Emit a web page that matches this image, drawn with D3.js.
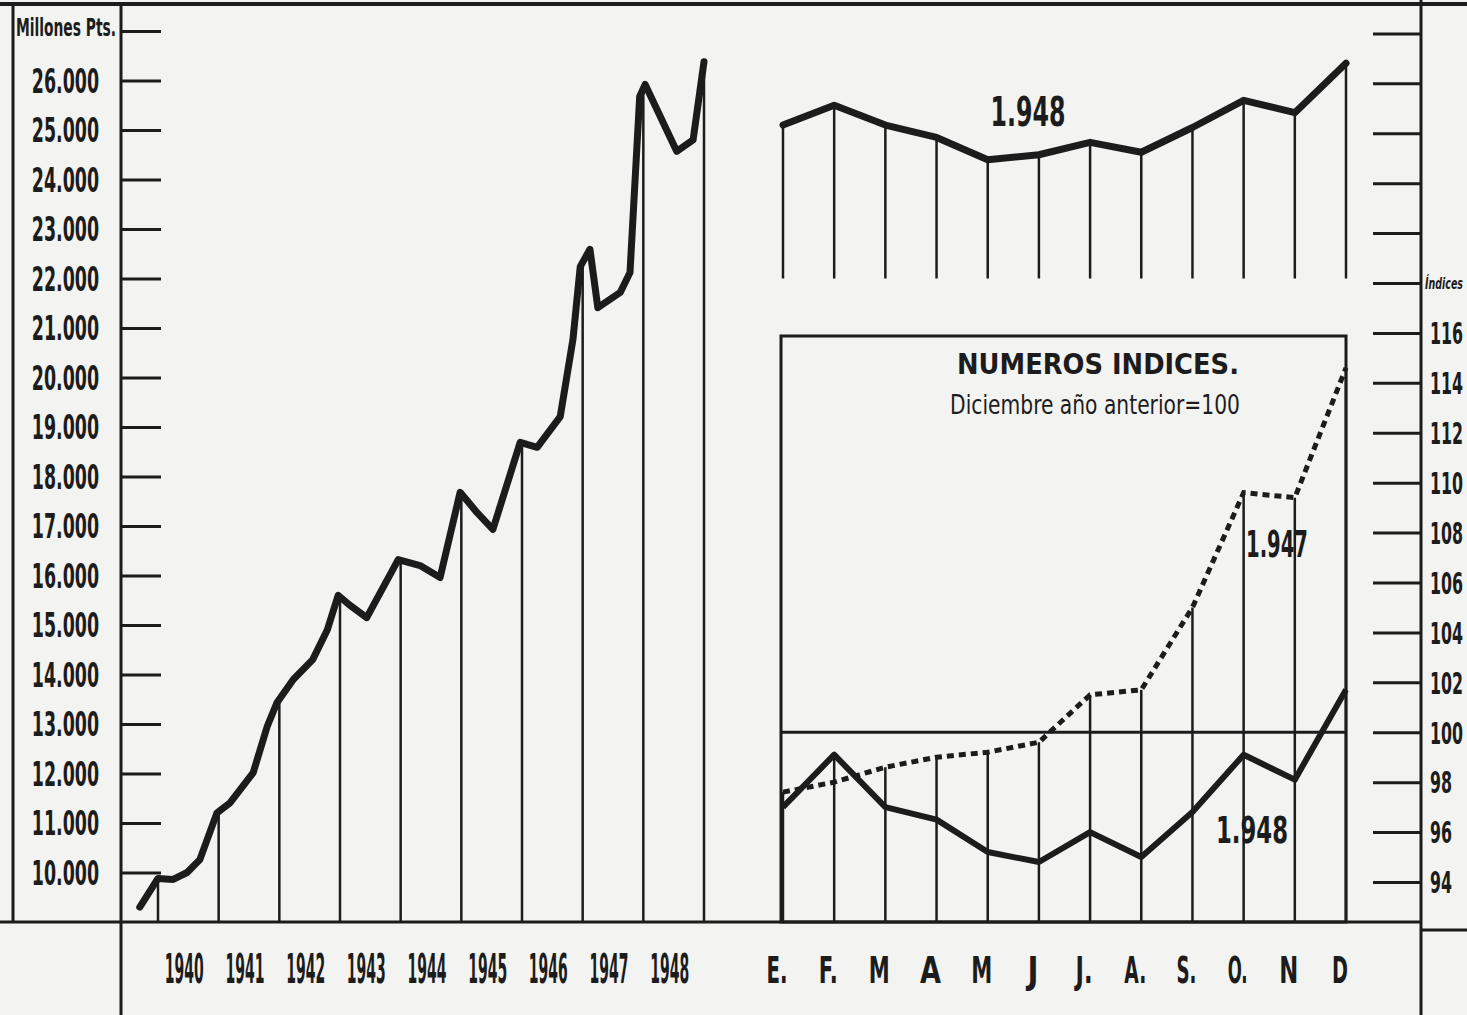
<!DOCTYPE html>
<html>
<head>
<meta charset="utf-8">
<script src="https://cdn.jsdelivr.net/npm/d3@7"></script>
<style>
  body { margin: 0; background: #f3f3f1; }
  svg { display: block; }
  text { font-family: "DejaVu Sans Condensed", "Liberation Sans Narrow", sans-serif; font-weight: bold; fill: #1c1c1c; }
</style>
</head>
<body>
<div id="chart"></div>
<script>
// circulacion fiduciaria, millones de pesetas
var fechas  = [1939.70, 1940.00, 1940.25, 1940.48, 1940.69, 1940.97, 1941.19, 1941.57, 1941.80, 1941.96,
               1942.23, 1942.55, 1942.79, 1942.97, 1943.16, 1943.44, 1943.96, 1944.32, 1944.65, 1944.98,
               1945.26, 1945.52, 1945.97, 1946.25, 1946.63, 1946.84, 1946.96, 1947.12, 1947.25, 1947.62,
               1947.78, 1947.94, 1948.03, 1948.55, 1948.82, 1949.00];
var valores = [9300, 9880, 9860, 10000, 10260, 11200, 11410, 12020, 12950, 13430,
               13900, 14300, 14900, 15600, 15400, 15150, 16320, 16200, 15960, 17680,
               17270, 16930, 18690, 18590, 19210, 20770, 22240, 22590, 21410, 21720,
               22120, 25680, 25920, 24570, 24800, 26380];
var anios = [1940, 1941, 1942, 1943, 1944, 1945, 1946, 1947, 1948];

// 1948 mes a mes
var meses = ["E.", "F.", "M", "A", "M", "J", "J.", "A.", "S.", "O.", "N", "D"];
var circ1948 = [25100, 25500, 25100, 24850, 24400, 24500, 24750, 24550, 25050, 25600, 25350, 26350];

// numeros indices (diciembre año anterior = 100)
var indice1947 = [97.6, 98.0, 98.6, 99.0, 99.2, 99.6, 101.5, 101.7, 105.0, 109.6, 109.4, 114.6];
var indice1948 = [97.0, 99.1, 97.0, 96.5, 95.2, 94.8, 96.0, 95.0, 96.8, 99.1, 98.1, 101.7];

var W = 1467, H = 1015;
var ink = "#1c1c1c";
var base = 922;

var svg = d3.select("#chart").append("svg")
  .attr("width", W).attr("height", H);

svg.append("rect").attr("width", W).attr("height", H).attr("fill", "#f3f3f1");

var y = d3.scaleLinear().domain([9000, 27000]).range([base, 31]);
var x = d3.scaleLinear().domain([1940, 1949]).range([158, 704]);
var mx = d3.scaleLinear().domain([0, 11]).range([783, 1346]);
var yi = d3.scaleLinear().domain([94, 118]).range([882, 283]);

// squeeze a text horizontally to a given width (the old print type is very narrow)
function squeeze(sel, width) {
  sel.each(function (d, i) {
    var t = d3.select(this);
    if (!t.text().length) return;
    var w = typeof width === "function" ? width(t.text(), i) : width;
    var nat = this.getComputedTextLength();
    var k = w / nat;
    var x0 = +t.attr("x") || 0;
    t.attr("transform", "translate(" + x0 + ",0) scale(" + k + ",1) translate(" + (-x0) + ",0)");
  });
}
function perChar(c) { return function (s) { return s.length * c; }; }

// marco
function hline(x1, x2, yy, w) {
  svg.append("line").attr("x1", x1).attr("x2", x2).attr("y1", yy).attr("y2", yy)
    .attr("stroke", ink).attr("stroke-width", w);
}
function vline(xx, y1, y2, w) {
  svg.append("line").attr("x1", xx).attr("x2", xx).attr("y1", y1).attr("y2", y2)
    .attr("stroke", ink).attr("stroke-width", w);
}
hline(0, W, 4, 4);
vline(13, 4, base, 3);
vline(121, 4, H, 3);
vline(1421, 0, H, 3);
hline(0, 1421, base, 3);
hline(1421, W, 930, 3);

////////// eje izquierdo //////////
var axL = svg.append("g")
  .attr("transform", "translate(121,0)")
  .call(d3.axisLeft(y)
    .tickValues(d3.range(10000, 27001, 1000))
    .tickSize(-40).tickSizeOuter(0).tickPadding(22)
    .tickFormat(function (d) { return d === 27000 ? "" : d3.format(",")(d).replace(",", "."); }));
axL.select(".domain").remove();
axL.selectAll(".tick line").attr("stroke", ink).attr("stroke-width", 3);
axL.selectAll(".tick text").style("font-size", "33px").attr("dy", "0.36em")
  .call(squeeze, perChar(11.2));

svg.append("text").attr("x", 16).attr("y", 36).style("font-size", "25px")
  .text("Millones Pts.").call(squeeze, 100);

////////// eje derecho //////////
var axR = svg.append("g")
  .attr("transform", "translate(1421,0)")
  .call(d3.axisRight(yi)
    .tickValues(d3.range(94, 129, 2))
    .tickSize(-48).tickSizeOuter(0).tickPadding(9)
    .tickFormat(function (d) { return d <= 116 ? d : ""; }));
axR.select(".domain").remove();
axR.selectAll(".tick line").attr("stroke", ink).attr("stroke-width", 3);
axR.selectAll(".tick text").style("font-size", "30px").attr("dy", "0.36em")
  .call(squeeze, perChar(11));
svg.append("text").attr("x", 1425).attr("y", yi(118) + 6)
  .style("font-size", "16px").style("font-style", "italic").text("Índices")
  .call(squeeze, 38);

////////// serie anual //////////
var serie = fechas.map(function (f, i) { return [f, valores[i]]; });
var bis = d3.bisector(function (d) { return d[0]; }).left;
function valorEn(t) {
  var i = bis(serie, t);
  if (i <= 0) return serie[0][1];
  if (i >= serie.length) return serie[serie.length - 1][1];
  var a = serie[i - 1], b = serie[i];
  return a[1] + (b[1] - a[1]) * (t - a[0]) / (b[0] - a[0]);
}

svg.append("g").selectAll("line")
  .data(d3.range(1940, 1950))
  .enter().append("line")
  .attr("x1", function (d) { return x(d); }).attr("x2", function (d) { return x(d); })
  .attr("y1", base).attr("y2", function (d) { return y(valorEn(d)); })
  .attr("stroke", ink).attr("stroke-width", 2.5);

svg.append("path")
  .datum(serie)
  .attr("d", d3.line().x(function (d) { return x(d[0]); }).y(function (d) { return y(d[1]); }))
  .attr("fill", "none").attr("stroke", ink).attr("stroke-width", 7)
  .attr("stroke-linejoin", "round").attr("stroke-linecap", "round");

svg.append("g").selectAll("text")
  .data(anios)
  .enter().append("text")
  .attr("x", function (d) { return x(d + 0.5) - 4; })
  .attr("y", 983)
  .attr("text-anchor", "middle")
  .style("font-size", "40px")
  .text(function (d) { return d; })
  .call(squeeze, 39);

////////// 1948 mensual //////////
svg.append("g").selectAll("line")
  .data(circ1948)
  .enter().append("line")
  .attr("x1", function (d, i) { return mx(i); }).attr("x2", function (d, i) { return mx(i); })
  .attr("y1", y(22000)).attr("y2", function (d) { return y(d); })
  .attr("stroke", ink).attr("stroke-width", 2.5);

svg.append("path")
  .datum(circ1948)
  .attr("d", d3.line().x(function (d, i) { return mx(i); }).y(function (d) { return y(d); }))
  .attr("fill", "none").attr("stroke", ink).attr("stroke-width", 7)
  .attr("stroke-linejoin", "round").attr("stroke-linecap", "round");

svg.append("text").attr("x", 1028).attr("y", 126).attr("text-anchor", "middle")
  .style("font-size", "40px").text("1.948").call(squeeze, 75);

////////// numeros indices //////////
svg.append("rect")
  .attr("x", mx(0) - 2).attr("y", 336)
  .attr("width", mx(11) - mx(0) + 2).attr("height", base - 336)
  .attr("fill", "none").attr("stroke", ink).attr("stroke-width", 3);

svg.append("g").selectAll("line")
  .data(d3.range(12))
  .enter().append("line")
  .attr("x1", function (i) { return mx(i); }).attr("x2", function (i) { return mx(i); })
  .attr("y1", base).attr("y2", function (i) { return yi(Math.max(indice1947[i], indice1948[i])); })
  .attr("stroke", ink).attr("stroke-width", 2.5);

svg.append("line")
  .attr("x1", mx(0) - 2).attr("x2", mx(11))
  .attr("y1", yi(100)).attr("y2", yi(100))
  .attr("stroke", ink).attr("stroke-width", 3);

var lineaIdx = d3.line().x(function (d, i) { return mx(i); }).y(function (d) { return yi(d); });

svg.append("path")
  .datum(indice1947)
  .attr("d", lineaIdx)
  .attr("fill", "none").attr("stroke", ink).attr("stroke-width", 5)
  .attr("stroke-dasharray", "7,5");

svg.append("path")
  .datum(indice1948)
  .attr("d", lineaIdx)
  .attr("fill", "none").attr("stroke", ink).attr("stroke-width", 6)
  .attr("stroke-linejoin", "round");

svg.append("text").attr("x", 1098).attr("y", 374).attr("text-anchor", "middle")
  .style("font-size", "29px").text("NUMEROS  INDICES.")
  .call(squeeze, 282);
svg.append("text").attr("x", 1095).attr("y", 414).attr("text-anchor", "middle")
  .style("font-size", "26px").style("font-weight", "normal").text("Diciembre año anterior=100")
  .call(squeeze, 290);

svg.append("text").attr("x", 1277).attr("y", 557).attr("text-anchor", "middle")
  .style("font-size", "38px").text("1.947").call(squeeze, 62);
svg.append("text").attr("x", 1252).attr("y", 843).attr("text-anchor", "middle")
  .style("font-size", "38px").text("1.948").call(squeeze, 72);

////////// meses //////////
var anchoMes = { "E.": 21, "F.": 19, "M": 21, "A": 21, "J": 11, "J.": 17, "A.": 22, "S.": 20, "O.": 20, "N": 19, "D": 16 };
svg.append("g").selectAll("text")
  .data(meses)
  .enter().append("text")
  .attr("x", function (d, i) { return mx(i) - 6; })
  .attr("y", 983)
  .attr("text-anchor", "middle")
  .style("font-size", "38px")
  .text(function (d) { return d; })
  .call(squeeze, function (s) { return anchoMes[s]; });
</script>
</body>
</html>
